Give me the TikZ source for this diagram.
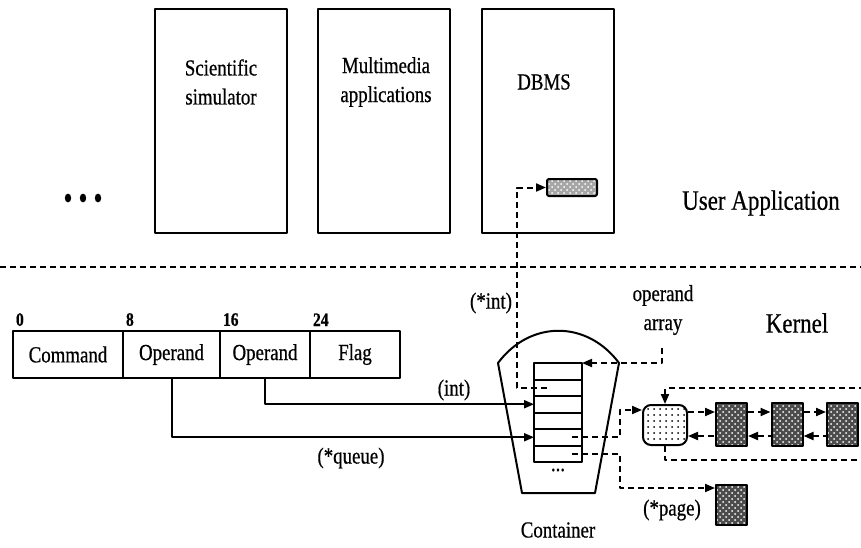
\documentclass[tikz,border=0pt]{standalone}
\usepackage{fontspec}
\setmainfont{Liberation Serif}[FakeStretch=0.82, FakeBold=0.6]
\usetikzlibrary{arrows.meta,patterns,positioning}
\newcommand{\fsz}[1]{\fontsize{#1}{14.5}\selectfont}

\begin{document}
\begin{tikzpicture}[x=0.5pt, y=-0.5pt, line width=1pt, line join=round, font=\fsz{11.5},
    >={Triangle[length=5pt,width=4pt]},
    dsh/.style={dash pattern=on 3pt off 2pt},
    app/.style={draw, minimum width=66pt, minimum height=112pt, inner sep=0pt},
    field/.style={draw, minimum height=23.5pt, inner sep=0pt, outer sep=0pt},
    cell/.style={draw, minimum width=24pt, minimum height=8.25pt, inner sep=0pt, outer sep=0pt},
    blk/.style={draw, preaction={fill=black!70}, pattern=crosshatch dots, pattern color=white, minimum width=15.5pt, minimum height=21.5pt, inner sep=0pt}]
    \useasboundingbox (0,0) rectangle (861,547);
    % user level
    \node[app] (sci) at (221,121) {};
    \node[app] (mm) at (384,121) {};
    \node[app] (dbms) at (547.5,121) {};
    \node[align=center] (sciT) at (221,82) {Scientific\\simulator};
    \node[align=center] (mmT) at (386,82) {Multimedia\\applications};
    \node (dbmsT) at (544,82) {DBMS};
    \node[draw, preaction={fill=black!35}, pattern=crosshatch dots, pattern color=white, rounded corners=1pt, minimum width=25pt, minimum height=8.5pt, inner sep=0pt] (rec) at (572,187.5) {};
    \foreach \x in {68,83,98} \fill (\x,198) ellipse (1.6pt and 2.2pt);
    \node[font=\fsz{14}] (user) at (761,203) {User Application};
    \draw[dsh] (0,267) -- (861,267);
    \node[font=\fsz{14}] (kern) at (797,323) {Kernel};
    % command word
    \node[field, minimum width=55pt, anchor=west] (cmd) at (13,354.5) {Command};
    \node[field, minimum width=48.5pt, right=0pt of cmd] (op1) {Operand};
    \node[field, minimum width=45pt, right=0pt of op1] (op2) {Operand};
    \node[field, minimum width=45pt, right=0pt of op2] (flag) {Flag};
    \foreach \f/\n in {cmd/0, op1/8, op2/16, flag/24}
        \node[anchor=south west, font=\fsz{9.5}\bfseries, inner sep=1pt, yshift=1pt] (n\f) at (\f.north west) {\n};
    % container with operand array
    \path (498,363) coordinate (ctl) (619,363) coordinate (ctr) (595,493) coordinate (cbr) (522,493) coordinate (cbl);
    \draw (ctl) .. controls (530,320) and (587,320) .. (ctr) -- (cbr) -- (cbl) -- cycle;
    \foreach \i in {1,...,6} \node[cell] (c\i) at (558,{363+16.5*(\i-0.5)}) {};
    \node (more) at (558,470) {...};
    \node (cont) at (558,530) {Container};
    \node[align=center] (oparr) at (663,310) {operand\\array};
    \coordinate (oa) at (662,348);
    \draw[dsh,->] (oa) |- (c1.north east);
    % operands
    \draw[->] (op2.south) |- (c3.west);
    \node (lint) at (454,390) {(int)};
    \draw[->] (op1.south) |- (c5.west);
    \node (lqueue) at (351,458) {(*queue)};
    \draw[dsh,->] ([xshift=-5.5pt]c2.center) -- ++(-30,0) |- (rec.west);
    \node (lpint) at (491,303) {(*int)};
    % list of pages
    \node[draw, pattern=dots, rounded corners=4pt, minimum width=22pt, minimum height=20pt, inner sep=0pt] (head) at (665,425) {};
    \node[blk] (A) at (731.5,424.5) {};
    \node[blk] (B) at (787,424.5) {};
    \node[blk] (C) at (842.5,424.5) {};
    \foreach \a/\b in {head/A, A/B, B/C} {
        \draw[dsh,->] (\a.east |- 0,412) -- (\b.west |- 0,412);
        \draw[dsh,<-] (\a.east |- 0,436) -- (\b.west |- 0,436);
    }
    \draw[dsh,<-] (head.north) |- (861,388);
    \draw[dsh] (head.south) |- (861,460);
    \node[blk, minimum height=20pt] (page) at (731.5,505) {};
    \node (lpage) at (672,510) {(*page)};
    \draw[dsh,->] ([xshift=7pt]c5.center) -| (620,410) -- (head.west |- 0,410);
    \draw[dsh,->] ([xshift=7pt]c6.center) -| (620,488) -- (page.west |- 0,488);
\end{tikzpicture}
\end{document}
